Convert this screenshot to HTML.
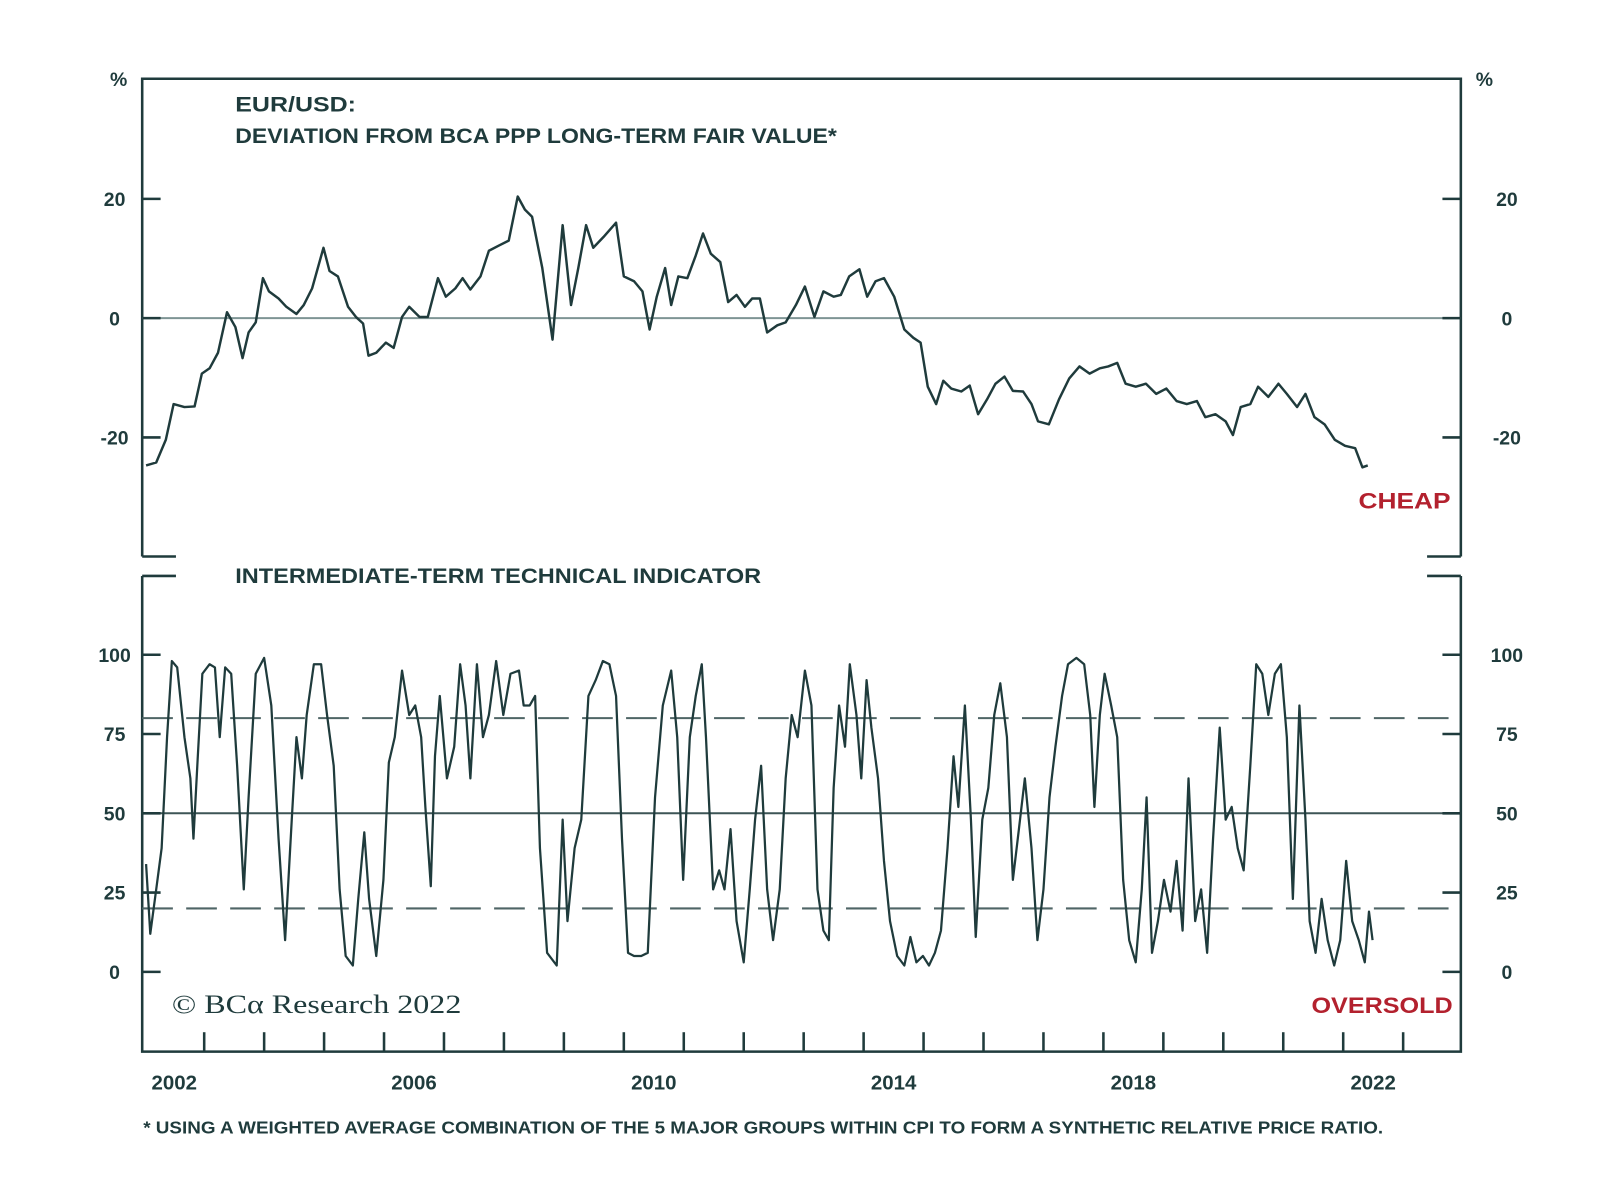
<!DOCTYPE html>
<html><head><meta charset="utf-8"><style>
html,body{margin:0;padding:0;background:#fff;}
svg{display:block;font-family:"Liberation Sans",sans-serif;}
</style></head><body>
<svg id="chart" width="1600" height="1191" viewBox="0 0 1600 1191" xmlns="http://www.w3.org/2000/svg">
<g transform="scale(1.023)">
<g id="static" fill="#1f3b3c">
<text x="116" y="84" font-size="19" font-weight="bold" text-anchor="middle">%</text>
<text x="1451" y="84" font-size="19" font-weight="bold" text-anchor="middle">%</text>
<text x="230" y="109" font-size="21" font-weight="bold" textLength="118" lengthAdjust="spacingAndGlyphs">EUR/USD:</text>
<text x="230" y="140" font-size="21" font-weight="bold" textLength="588" lengthAdjust="spacingAndGlyphs">DEVIATION FROM BCA PPP LONG-TERM FAIR VALUE*</text>
<text x="230" y="570" font-size="21" font-weight="bold" textLength="514" lengthAdjust="spacingAndGlyphs">INTERMEDIATE-TERM TECHNICAL INDICATOR</text>
<text x="1418" y="497" font-size="22" font-weight="bold" fill="#b3212e" text-anchor="end" textLength="90" lengthAdjust="spacingAndGlyphs">CHEAP</text>
<text x="1420" y="990" font-size="22" font-weight="bold" fill="#b3212e" text-anchor="end" textLength="138" lengthAdjust="spacingAndGlyphs">OVERSOLD</text>
<text x="168" y="990" font-size="26" font-family="Liberation Serif, serif" textLength="283" lengthAdjust="spacingAndGlyphs">© BCα Research 2022</text>
<text x="140" y="1108" font-size="17" font-weight="bold" textLength="1212" lengthAdjust="spacingAndGlyphs">* USING A WEIGHTED AVERAGE COMBINATION OF THE 5 MAJOR GROUPS WITHIN CPI TO FORM A SYNTHETIC RELATIVE PRICE RATIO.</text>
</g>
<g id="frame" stroke="#1f3b3c" stroke-width="2.5" fill="none">
<path d="M139,544 L139,77 L1428,77 L1428,544 M139,544 L172,544 M1395,544 L1428,544"/>
<path d="M139,563 L139,1028 L1428,1028 L1428,563 M139,563 L172,563 M1395,563 L1428,563"/>
</g>
<g id="dyn"></g>
</g>
</svg>
<script>
const topTicks=[20,0,-20];
const topTickLabels=["20","0","-20"];
const botTicks=[100,75,50,25,0];
const botTickLabels=["100","75","50","25","0"];
const yearLabels=[2002,2006,2010,2014,2018,2022];
const dashLevels=[80,20];
const topDates=[2002.03,2002.20,2002.36,2002.49,2002.67,2002.84,2002.96,2003.09,2003.23,2003.38,2003.52,2003.64,2003.74,2003.86,2003.98,2004.08,2004.24,2004.37,2004.54,2004.66,2004.80,2004.99,2005.09,2005.23,2005.40,2005.53,2005.65,2005.74,2005.87,2006.03,2006.16,2006.30,2006.42,2006.59,2006.73,2006.90,2007.03,2007.19,2007.31,2007.44,2007.61,2007.75,2007.92,2008.08,2008.23,2008.35,2008.47,2008.64,2008.81,2008.98,2009.12,2009.24,2009.37,2009.49,2009.66,2009.87,2010.00,2010.17,2010.31,2010.43,2010.55,2010.69,2010.79,2010.91,2011.06,2011.20,2011.32,2011.45,2011.61,2011.74,2011.88,2012.02,2012.14,2012.27,2012.39,2012.56,2012.70,2012.87,2013.02,2013.18,2013.33,2013.50,2013.62,2013.76,2013.93,2014.06,2014.20,2014.34,2014.51,2014.68,2014.83,2014.95,2015.07,2015.21,2015.33,2015.46,2015.63,2015.77,2015.91,2016.06,2016.20,2016.35,2016.49,2016.66,2016.80,2016.91,2017.09,2017.26,2017.43,2017.60,2017.77,2017.94,2018.08,2018.23,2018.37,2018.54,2018.71,2018.88,2019.05,2019.22,2019.39,2019.56,2019.70,2019.87,2020.04,2020.16,2020.29,2020.45,2020.58,2020.75,2020.92,2021.06,2021.23,2021.37,2021.52,2021.69,2021.86,2022.03,2022.20,2022.32,2022.41];
const topValues=[-24.7,-24.2,-20.4,-14.4,-14.9,-14.8,-9.3,-8.4,-5.8,1.0,-1.5,-6.7,-2.4,-0.7,6.7,4.5,3.3,1.9,0.7,2.2,5.0,11.8,7.9,7.0,1.9,0.2,-0.9,-6.3,-5.8,-4.1,-5.0,0.2,1.9,0.2,0.2,6.7,3.6,5.0,6.7,4.8,7.0,11.3,12.2,13.0,20.4,18.2,17.0,8.4,-3.6,15.6,2.2,8.4,15.6,11.8,13.6,16.0,7.0,6.2,4.5,-1.9,3.6,8.4,2.2,7.0,6.7,10.5,14.2,10.8,9.4,2.7,3.9,1.9,3.3,3.3,-2.4,-1.2,-0.7,2.2,5.3,0.2,4.5,3.6,3.9,7.0,8.2,3.6,6.2,6.7,3.6,-1.9,-3.3,-4.1,-11.5,-14.4,-10.5,-11.8,-12.3,-11.3,-16.1,-13.6,-11.0,-9.8,-12.2,-12.3,-14.4,-17.3,-17.8,-13.6,-10.1,-8.1,-9.3,-8.4,-8.1,-7.5,-11.0,-11.5,-11.0,-12.7,-11.8,-13.9,-14.4,-13.9,-16.6,-16.1,-17.3,-19.6,-14.9,-14.4,-11.5,-13.2,-11.0,-12.7,-14.9,-12.7,-16.6,-17.8,-20.4,-21.4,-21.8,-25.0,-24.7];
const botDates=[2002.03,2002.10,2002.20,2002.29,2002.38,2002.46,2002.55,2002.67,2002.77,2002.82,2002.89,2002.97,2003.09,2003.18,2003.26,2003.35,2003.45,2003.55,2003.66,2003.74,2003.86,2004.00,2004.12,2004.24,2004.35,2004.46,2004.54,2004.63,2004.71,2004.83,2004.95,2005.05,2005.16,2005.26,2005.36,2005.48,2005.57,2005.67,2005.75,2005.87,2005.99,2006.08,2006.18,2006.30,2006.42,2006.52,2006.62,2006.69,2006.78,2006.85,2006.93,2007.05,2007.17,2007.27,2007.36,2007.44,2007.55,2007.65,2007.75,2007.87,2007.99,2008.11,2008.25,2008.33,2008.43,2008.52,2008.60,2008.72,2008.88,2008.98,2009.06,2009.18,2009.29,2009.41,2009.53,2009.65,2009.76,2009.87,2009.97,2010.07,2010.17,2010.29,2010.40,2010.52,2010.65,2010.79,2010.89,2010.99,2011.10,2011.20,2011.30,2011.37,2011.49,2011.59,2011.68,2011.78,2011.88,2012.00,2012.10,2012.19,2012.29,2012.39,2012.49,2012.60,2012.70,2012.80,2012.90,2013.02,2013.13,2013.23,2013.33,2013.42,2013.50,2013.59,2013.69,2013.77,2013.88,2013.96,2014.05,2014.13,2014.24,2014.34,2014.44,2014.56,2014.68,2014.78,2014.88,2014.99,2015.09,2015.19,2015.29,2015.40,2015.50,2015.58,2015.69,2015.79,2015.87,2015.98,2016.08,2016.18,2016.28,2016.39,2016.49,2016.59,2016.69,2016.80,2016.90,2017.00,2017.10,2017.20,2017.31,2017.41,2017.55,2017.68,2017.78,2017.85,2017.94,2018.02,2018.13,2018.23,2018.33,2018.43,2018.54,2018.64,2018.72,2018.81,2018.91,2019.01,2019.12,2019.22,2019.32,2019.42,2019.53,2019.63,2019.73,2019.83,2019.94,2020.04,2020.14,2020.24,2020.34,2020.45,2020.55,2020.65,2020.75,2020.86,2020.96,2021.06,2021.16,2021.27,2021.37,2021.44,2021.54,2021.64,2021.74,2021.85,2021.95,2022.05,2022.15,2022.26,2022.36,2022.43,2022.49];
const botValues=[34,12,26,39,74,98,96,74,61,42,67,94,97,96,74,96,94,65,26,55,94,99,84,42,10,48,74,61,81,97,97,81,65,26,5,2,23,44,23,5,29,66,74,95,81,84,74,52,27,68,87,61,71,97,84,61,97,74,81,98,81,94,95,84,84,87,39,6,2,48,16,39,48,87,92,98,97,87,42,6,5,5,6,55,84,95,74,29,74,87,97,74,26,32,26,45,16,3,26,48,65,26,10,26,61,81,74,95,84,26,13,10,58,84,71,97,81,61,92,77,61,35,16,5,2,11,3,5,2,6,13,39,68,52,84,48,11,48,58,81,91,74,29,45,61,39,10,26,55,71,87,97,99,97,81,52,81,94,84,74,29,10,3,26,55,6,16,29,19,35,13,61,16,26,6,42,77,48,52,39,32,65,97,94,81,94,97,74,23,84,48,16,6,23,10,2,10,35,16,10,3,19,10];

const NS="http://www.w3.org/2000/svg";
const dyn=document.getElementById('dyn');
const C="#1f3b3c";
const xScale=t=>141+(t-2002)*58.6;
const yTop=v=>311-v*5.83;
const yBot=v=>950-v*3.1;
function mk(tag,attrs,parent){const e=document.createElementNS(NS,tag);for(const k in attrs)e.setAttribute(k,attrs[k]);(parent||dyn).appendChild(e);return e;}

let zl=mk('line',{x1:139,x2:1428,y1:yTop(0),y2:yTop(0),stroke:"#7e9494","stroke-width":2});


let ml=mk('line',{x1:139,x2:1428,y1:yBot(50),y2:yBot(50),stroke:"#3d5556","stroke-width":2});


dashLevels.forEach(v=>{
  const l=mk('line',{x1:139,x2:1428,y1:yBot(v),y2:yBot(v),stroke:"#4f6566","stroke-width":2,"stroke-dasharray":"30 13"});
  
  
});
topTicks.forEach((v,i)=>{
  const y=yTop(v);
  const t1=mk('path',{d:`M139,${y}H157M1410,${y}H1428`,stroke:C,"stroke-width":2.5});
  
  
  const a=mk('text',{x:112,y:y+7,"font-size":19,"font-weight":"bold",fill:C,"text-anchor":"middle"});
  a.textContent=topTickLabels[i];
  
  
  const b=mk('text',{x:1473,y:y+7,"font-size":19,"font-weight":"bold",fill:C,"text-anchor":"middle"});
  b.textContent=topTickLabels[i];
  
  
});
botTicks.forEach((v,i)=>{
  const y=yBot(v);
  const t1=mk('path',{d:`M139,${y}H157M1410,${y}H1428`,stroke:C,"stroke-width":2.5});
  
  
  const a=mk('text',{x:112,y:y+7,"font-size":19,"font-weight":"bold",fill:C,"text-anchor":"middle"});
  a.textContent=botTickLabels[i];
  
  
  const b=mk('text',{x:1473,y:y+7,"font-size":19,"font-weight":"bold",fill:C,"text-anchor":"middle"});
  b.textContent=botTickLabels[i];
  
  
});
for(let yr=2003;yr<=2023;yr++){
  const x=xScale(yr);
  const t=mk('line',{x1:x,x2:x,y1:1028,y2:1009,stroke:C,"stroke-width":2.5});
  
  
}
yearLabels.forEach(yr=>{
  const t=mk('text',{x:xScale(yr+0.5),y:1065,"font-size":20,"font-weight":"bold",fill:C,"text-anchor":"middle"});
  t.textContent=String(yr);
  
  
});
const p1=mk('polyline',{points:topDates.map((d,i)=>xScale(d).toFixed(1)+','+yTop(topValues[i]).toFixed(1)).join(' '),fill:"none",stroke:C,"stroke-width":2.4,"stroke-linejoin":"round"});


const p2=mk('polyline',{points:botDates.map((d,i)=>xScale(d).toFixed(1)+','+yBot(botValues[i]).toFixed(1)).join(' '),fill:"none",stroke:C,"stroke-width":2.2,"stroke-linejoin":"round"});


</script>
</body></html>
